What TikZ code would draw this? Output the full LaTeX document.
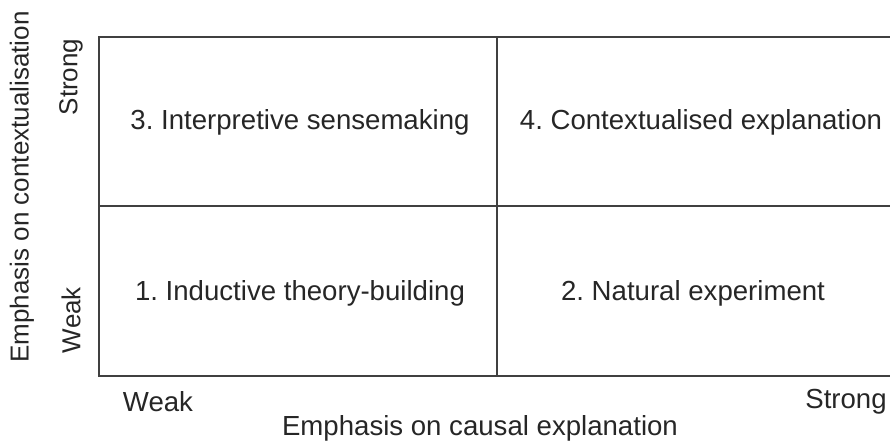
\documentclass[tikz,border=0pt]{standalone}
\usepackage{fontspec}
\setmainfont{Liberation Sans}
\usepackage{tikz}
\usetikzlibrary{positioning}
\frenchspacing

\begin{document}
\begin{tikzpicture}[x=0.5pt,y=-0.5pt,
    cell/.style={font=\fontsize{13.8}{16}\selectfont, text=black!85},
    axis/.style={font=\fontsize{13.8}{16}\selectfont, text=black!85},
    yaxis/.style={font=\fontsize{13}{15}\selectfont, text=black!85, rotate=90},
    grid/.style={draw=black!75, line width=1pt}]
\useasboundingbox (0,0) rectangle (890,446);
\coordinate (tl) at (99,37);
\coordinate (bl) at (99,376);
\coordinate (tr) at (892,37);
\coordinate (br) at (892,376);
\coordinate (ml) at (99,206);
\coordinate (mr) at (892,206);
\coordinate (mt) at (497,37);
\coordinate (mb) at (497,376);
\draw[grid] (tr) -- (tl) -- (bl) -- (br);
\draw[grid] (ml) -- (mr);
\draw[grid] (mt) -- (mb);
\node[cell] (q3) at (300,122) {3. Interpretive sensemaking};
\node[cell] (q4) at (701,122) {4. Contextualised explanation};
\node[cell] (q1) at (300,293) {1. Inductive theory-building};
\node[cell] (q2) at (693,293) {2. Natural experiment};
\node[yaxis] (ystrong) at (71,77) {Strong};
\node[yaxis] (yweak) at (71,320) {Weak};
\node[yaxis] (ylabel) at (22,187) {Emphasis on contextualisation};
\node[axis] (xweak) at (158,402) {Weak};
\node[axis] (xstrong) at (846,402) {Strong};
\node[axis] (xlabel) at (480,428) {Emphasis on causal explanation};
\end{tikzpicture}
\end{document}
